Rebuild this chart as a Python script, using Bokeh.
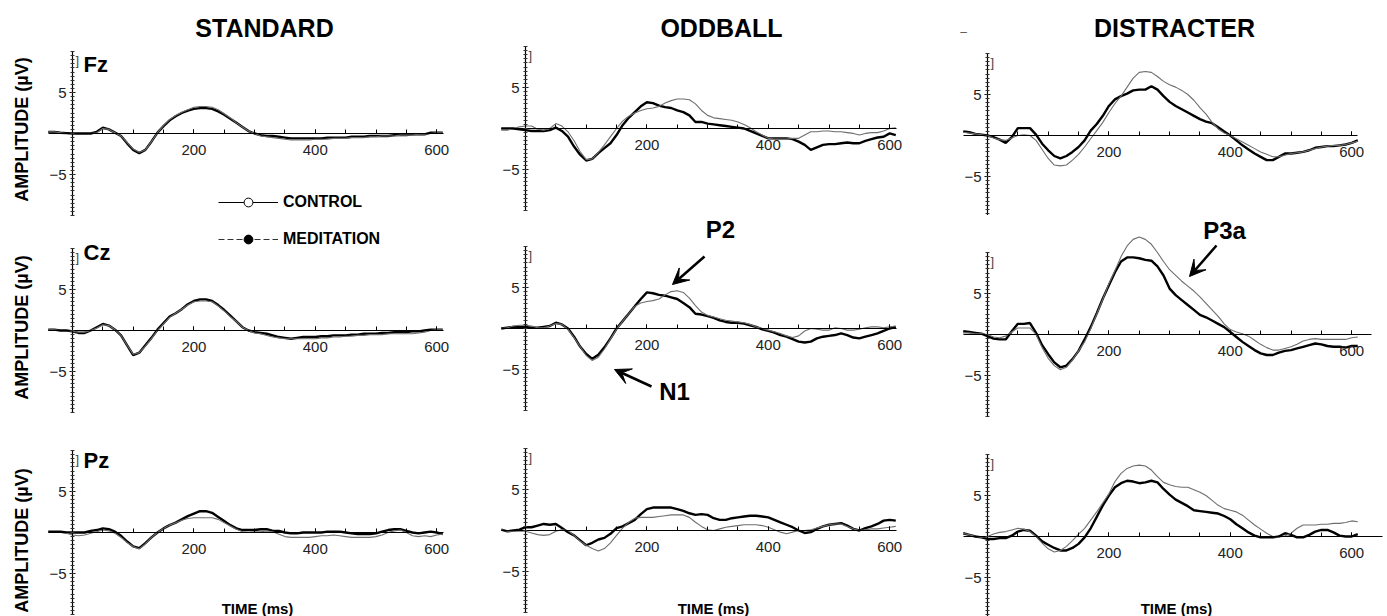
from math import pi
from bokeh.plotting import figure
from bokeh.layouts import row, column
from bokeh.models import (Range1d, LinearAxis, FixedTicker, Label, Arrow, VeeHead,
                          Legend, LegendItem)
from bokeh.embed import file_html
from bokeh.resources import INLINE

# ---------------- data ----------------
TIME_MS = [-40, -30, -20, -10, 0, 10, 20, 30, 40, 50,
           60, 70, 80, 90, 100, 110, 120, 130, 140, 150,
           160, 170, 180, 190, 200, 210, 220, 230, 240, 250,
           260, 270, 280, 290, 300, 310, 320, 330, 340, 350,
           360, 370, 380, 390, 400, 410, 420, 430, 440, 450,
           460, 470, 480, 490, 500, 510, 520, 530, 540, 550,
           560, 570, 580, 590, 600, 610]

CONDITIONS = ["STANDARD", "ODDBALL", "DISTRACTER"]
SITES = ["Fz", "Cz", "Pz"]
X_TICK_LABELS = [200, 400, 600]
Y_TICK_LABELS = [-5, 5]
GROUPS = ["CONTROL", "MEDITATION"]

# STANDARD
STD_FZ_MED = [0.2, 0.2, 0.1, 0.05, 0.0, 0.0, 0.0, 0.0, 0.2, 0.7,
              0.5, 0.1, -0.3, -1.2, -2.0, -2.4, -2.0, -1.0, 0.1, 0.9,
              1.6, 2.1, 2.5, 2.8, 3.0, 3.1, 3.1, 3.0, 2.7, 2.3,
              1.8, 1.3, 0.8, 0.3, 0.0, -0.2, -0.3, -0.3, -0.4, -0.5,
              -0.6, -0.6, -0.6, -0.6, -0.6, -0.6, -0.5, -0.5, -0.5, -0.5,
              -0.4, -0.4, -0.4, -0.3, -0.3, -0.3, -0.3, -0.2, -0.2, -0.2,
              -0.1, -0.1, -0.1, 0.1, 0.1, 0.1]
STD_FZ_CON = [0.2, 0.2, 0.1, 0.0, 0.0, 0.0, 0.0, 0.0, 0.1, 0.6,
              0.5, 0.1, -0.3, -1.1, -1.9, -2.3, -2.0, -1.0, 0.1, 1.0,
              1.7, 2.2, 2.6, 2.9, 3.2, 3.3, 3.3, 3.2, 2.9, 2.4,
              1.9, 1.3, 0.8, 0.3, 0.0, -0.3, -0.4, -0.5, -0.6, -0.7,
              -0.8, -0.8, -0.8, -0.8, -0.7, -0.7, -0.7, -0.6, -0.6, -0.6,
              -0.5, -0.5, -0.5, -0.4, -0.4, -0.3, -0.3, -0.3, -0.2, -0.2,
              -0.2, -0.1, -0.1, 0.0, 0.1, 0.1]
STD_CZ_MED = [0.1, 0.1, 0.0, 0.0, -0.1, -0.3, -0.3, 0.0, 0.4, 0.8,
              0.6, 0.1, -0.6, -1.8, -3.0, -2.7, -1.8, -0.9, 0.1, 0.9,
              1.7, 2.1, 2.6, 3.2, 3.6, 3.8, 3.8, 3.6, 3.1, 2.5,
              1.8, 1.1, 0.4, 0.0, -0.2, -0.3, -0.4, -0.6, -0.8, -0.9,
              -1.0, -0.9, -0.8, -0.8, -0.8, -0.7, -0.7, -0.6, -0.6, -0.6,
              -0.5, -0.5, -0.4, -0.4, -0.4, -0.3, -0.3, -0.2, -0.2, -0.2,
              -0.1, -0.1, 0.0, 0.1, 0.1, 0.1]
STD_CZ_CON = [0.1, 0.1, 0.0, 0.0, -0.1, -0.2, -0.2, 0.0, 0.3, 0.7,
              0.6, 0.1, -0.6, -1.8, -2.9, -2.7, -1.9, -1.0, 0.0, 0.8,
              1.6, 2.1, 2.6, 3.1, 3.5, 3.6, 3.6, 3.5, 3.0, 2.4,
              1.7, 1.1, 0.4, 0.0, -0.3, -0.4, -0.6, -0.8, -0.9, -1.0,
              -1.0, -1.0, -1.0, -1.0, -1.0, -0.9, -0.9, -0.8, -0.8, -0.7,
              -0.7, -0.6, -0.6, -0.5, -0.5, -0.5, -0.4, -0.4, -0.4, -0.4,
              -0.4, -0.3, -0.2, 0.0, 0.1, 0.1]
STD_PZ_MED = [0.1, 0.1, 0.1, 0.0, 0.0, 0.0, 0.0, 0.2, 0.3, 0.5,
              0.4, 0.1, -0.4, -1.1, -1.7, -1.9, -1.3, -0.6, 0.0, 0.5,
              0.9, 1.2, 1.6, 2.0, 2.3, 2.6, 2.6, 2.4, 1.9, 1.4,
              0.9, 0.5, 0.3, 0.3, 0.3, 0.4, 0.4, 0.2, 0.2, 0.0,
              -0.1, -0.1, 0.0, 0.0, 0.0, 0.0, 0.1, 0.1, 0.1, 0.0,
              -0.1, -0.2, -0.2, -0.2, -0.1, 0.1, 0.3, 0.4, 0.4, 0.2,
              0.0, -0.1, 0.0, 0.1, 0.0, -0.2]
STD_PZ_CON = [0.0, 0.0, 0.0, -0.1, -0.3, -0.4, -0.3, -0.1, 0.1, 0.3,
              0.2, -0.1, -0.6, -1.2, -1.7, -2.0, -1.4, -0.6, 0.0, 0.5,
              0.9, 1.2, 1.5, 1.7, 1.8, 1.8, 1.8, 1.8, 1.6, 1.2,
              0.8, 0.4, 0.1, 0.0, 0.1, 0.1, 0.2, 0.1, -0.2, -0.5,
              -0.6, -0.6, -0.6, -0.6, -0.5, -0.4, -0.4, -0.3, -0.4, -0.5,
              -0.6, -0.6, -0.6, -0.6, -0.5, -0.3, 0.0, 0.2, 0.3, 0.0,
              -0.4, -0.5, -0.4, -0.5, -0.3, -0.2]

# ODDBALL
ODD_FZ_MED = [0.0, 0.0, 0.0, -0.1, -0.2, -0.3, -0.3, -0.3, -0.2, 0.1,
              -0.3, -1.0, -2.2, -3.2, -3.9, -3.7, -3.0, -2.4, -1.8, -0.8,
              0.4, 1.3, 2.0, 2.7, 3.2, 3.1, 2.8, 2.6, 2.5, 2.2,
              2.0, 1.6, 0.8, 0.8, 0.6, 0.5, 0.4, 0.3, 0.2, 0.1,
              0.0, -0.3, -0.6, -0.9, -1.2, -1.2, -1.2, -1.2, -1.3, -1.6,
              -2.0, -2.6, -2.3, -2.0, -1.9, -1.9, -1.8, -1.7, -1.8, -1.8,
              -1.5, -1.3, -1.1, -1.0, -0.6, -0.8]
ODD_FZ_CON = [-0.2, -0.2, 0.0, 0.2, 0.3, 0.3, -0.1, -0.2, 0.0, 0.6,
              0.3, -0.4, -1.5, -2.8, -3.8, -3.7, -2.9, -2.0, -1.0, 0.0,
              0.9, 1.5, 1.9, 2.2, 2.4, 2.5, 2.7, 3.1, 3.4, 3.6,
              3.6, 3.5, 3.0, 2.2, 1.6, 1.3, 1.2, 1.1, 1.0, 0.8,
              0.5, 0.1, -0.4, -0.8, -1.2, -1.3, -1.3, -1.3, -1.2, -1.2,
              -0.8, -0.4, -0.4, -0.3, -0.3, -0.4, -0.4, -0.5, -0.6, -0.8,
              -0.6, -0.5, -0.5, -0.3, 0.0, 0.1]
ODD_CZ_MED = [0.0, 0.1, 0.2, 0.2, 0.2, 0.1, 0.1, 0.2, 0.3, 0.7,
              0.5, 0.0, -1.0, -2.2, -3.1, -3.7, -3.2, -2.3, -1.2, 0.0,
              0.9, 1.8, 2.7, 3.6, 4.4, 4.3, 4.1, 4.0, 3.8, 3.6,
              3.1, 2.6, 1.8, 1.7, 1.5, 1.3, 1.0, 0.8, 0.7, 0.7,
              0.6, 0.4, 0.2, -0.1, -0.3, -0.5, -0.8, -1.0, -1.3, -1.6,
              -1.7, -1.6, -1.2, -1.0, -0.9, -0.8, -0.6, -0.8, -1.1, -1.2,
              -1.0, -0.8, -0.6, -0.3, 0.0, 0.2]
ODD_CZ_CON = [0.0, 0.1, 0.3, 0.4, 0.4, 0.3, 0.1, 0.1, 0.3, 0.6,
              0.5, -0.1, -1.1, -2.2, -3.3, -3.9, -3.5, -2.5, -1.3, -0.1,
              0.9, 1.8, 2.7, 3.1, 3.3, 3.4, 3.6, 4.1, 4.5, 4.6,
              4.4, 3.7, 2.8, 2.0, 1.6, 1.4, 1.2, 1.0, 0.9, 0.8,
              0.7, 0.5, 0.2, 0.0, -0.2, -0.4, -0.6, -0.9, -1.1, -0.9,
              -0.3, 0.0, -0.1, -0.2, -0.2, 0.1, 0.0, -0.2, -0.2, -0.1,
              0.1, 0.2, 0.2, 0.1, 0.2, 0.3]
ODD_PZ_MED = [0.1, -0.1, 0.0, 0.1, 0.4, 0.4, 0.6, 0.8, 0.7, 0.8,
              0.3, -0.2, -0.6, -1.2, -1.8, -1.5, -1.1, -0.9, -0.4, 0.3,
              0.5, 0.9, 1.3, 2.0, 2.6, 2.8, 2.8, 2.8, 2.8, 2.6,
              2.4, 2.1, 1.9, 2.0, 1.9, 1.5, 1.3, 1.3, 1.5, 1.6,
              1.7, 1.8, 1.8, 1.7, 1.6, 1.3, 1.0, 0.7, 0.4, 0.0,
              -0.3, -0.2, 0.2, 0.5, 0.7, 0.8, 0.9, 0.6, 0.2, 0.0,
              0.3, 0.5, 0.8, 1.2, 1.3, 1.2]
ODD_PZ_CON = [0.1, -0.1, -0.1, -0.1, -0.1, -0.3, -0.5, -0.6, -0.5, -0.1,
              0.1, 0.0, -0.6, -1.3, -1.8, -2.2, -2.5, -2.2, -1.5, -0.6,
              0.3, 1.0, 1.5, 1.6, 1.6, 1.6, 1.7, 1.8, 1.9, 1.9,
              1.9, 1.6, 1.0, 0.5, 0.1, 0.0, 0.2, 0.4, 0.5, 0.6,
              0.7, 0.7, 0.7, 0.6, 0.4, 0.1, -0.2, -0.4, -0.2, 0.0,
              0.0, 0.1, 0.3, 0.5, 0.7, 0.8, 0.8, 0.5, 0.2, 0.0,
              0.1, 0.2, 0.2, 0.3, 0.4, 0.5]

# DISTRACTER
DIS_FZ_MED = [0.5, 0.4, 0.2, 0.1, 0.0, -0.2, -0.5, -0.9, -0.2, 0.9,
              0.9, 0.9, 0.1, -1.0, -1.8, -2.5, -2.8, -2.5, -2.0, -1.4,
              -0.6, 0.6, 1.4, 2.4, 3.6, 4.4, 4.8, 5.1, 5.5, 5.6,
              5.6, 6.0, 5.6, 4.8, 4.1, 3.6, 3.2, 2.8, 2.4, 2.0,
              1.7, 1.5, 1.0, 0.5, 0.0, -0.6, -1.2, -1.7, -2.2, -2.6,
              -3.0, -3.0, -2.6, -2.2, -2.2, -2.1, -2.0, -1.8, -1.5, -1.4,
              -1.3, -1.3, -1.2, -1.1, -0.9, -0.6]
DIS_FZ_CON = [0.4, 0.3, 0.2, 0.1, 0.0, -0.3, -0.5, -0.6, -0.3, 0.0,
              0.1, 0.0, -0.6, -1.7, -2.8, -3.6, -3.7, -3.6, -3.0, -2.3,
              -1.4, -0.4, 0.6, 1.6, 2.8, 3.9, 4.8, 5.9, 7.0, 7.7,
              7.8, 7.7, 7.2, 6.6, 6.2, 5.9, 5.5, 5.0, 4.3, 3.4,
              2.6, 1.6, 0.8, 0.3, 0.0, -0.4, -0.8, -1.2, -1.6, -2.0,
              -2.3, -2.6, -2.6, -2.4, -2.2, -2.1, -2.0, -1.8, -1.6, -1.4,
              -1.3, -1.2, -1.2, -1.1, -0.9, -0.7]
DIS_CZ_MED = [0.4, 0.3, 0.2, 0.1, -0.2, -0.5, -0.6, -0.6, 0.4, 1.3,
              1.3, 1.4, 0.2, -1.3, -2.4, -3.4, -4.0, -3.8, -3.0, -2.0,
              -0.6, 0.9, 2.6, 4.4, 6.0, 7.6, 8.9, 9.4, 9.4, 9.3,
              9.1, 9.0, 8.3, 7.2, 5.6, 4.8, 4.2, 3.6, 3.0, 2.4,
              2.1, 1.7, 1.3, 0.9, 0.3, -0.3, -0.9, -1.4, -1.9, -2.3,
              -2.5, -2.5, -2.2, -2.0, -1.9, -1.7, -1.5, -1.3, -1.1, -1.2,
              -1.4, -1.5, -1.5, -1.6, -1.4, -1.4]
DIS_CZ_CON = [0.2, 0.2, 0.1, 0.1, 0.0, -0.3, -0.4, -0.2, 0.3, 0.8,
              0.8, 0.8, 0.0, -1.6, -2.9, -3.8, -4.3, -4.0, -3.1, -2.0,
              -0.9, 0.7, 2.5, 4.3, 6.2, 7.8, 9.5, 10.8, 11.6, 11.9,
              11.6, 11.0, 10.0, 8.9, 7.9, 7.2, 6.5, 5.9, 5.3, 4.6,
              3.8, 3.0, 2.2, 1.3, 0.6, 0.3, 0.1, -0.2, -0.7, -1.2,
              -1.6, -1.9, -1.9, -1.7, -1.5, -1.2, -0.8, -0.6, -0.5, -0.6,
              -0.6, -0.6, -0.6, -0.6, -0.4, -0.3]
DIS_PZ_MED = [0.4, 0.2, 0.0, -0.1, -0.3, -0.3, -0.2, -0.2, 0.1, 0.6,
              0.8, 0.7, 0.1, -0.6, -1.0, -1.4, -1.7, -1.7, -1.4, -0.9,
              -0.1, 1.0, 2.4, 3.8, 5.0, 6.0, 6.5, 6.8, 6.7, 6.5,
              6.6, 6.8, 6.6, 5.8, 5.1, 4.5, 4.1, 3.7, 3.2, 3.1,
              3.0, 2.9, 2.8, 2.5, 2.1, 1.5, 1.0, 0.5, 0.1, -0.1,
              -0.1, -0.1, 0.0, 0.4, 0.2, -0.1, -0.1, 0.2, 0.6, 0.8,
              0.8, 0.5, 0.1, 0.0, 0.0, 0.3]
DIS_PZ_CON = [0.4, 0.2, 0.0, -0.1, 0.0, 0.3, 0.5, 0.6, 0.8, 1.0,
              0.9, 0.6, 0.0, -0.8, -1.5, -1.9, -1.7, -1.2, -0.5, 0.3,
              1.0, 2.0, 3.0, 4.1, 5.2, 6.7, 7.7, 8.3, 8.6, 8.7,
              8.6, 8.1, 7.3, 6.6, 6.3, 6.1, 6.0, 6.0, 5.7, 5.4,
              5.0, 4.4, 3.8, 3.4, 3.2, 3.0, 2.6, 2.0, 1.4, 0.9,
              0.4, 0.0, -0.1, 0.1, 0.4, 1.0, 1.4, 1.4, 1.4, 1.5,
              1.5, 1.6, 1.6, 1.7, 1.9, 1.8]

DATA = {
    ("STANDARD", "Fz"): (STD_FZ_CON, STD_FZ_MED),
    ("STANDARD", "Cz"): (STD_CZ_CON, STD_CZ_MED),
    ("STANDARD", "Pz"): (STD_PZ_CON, STD_PZ_MED),
    ("ODDBALL", "Fz"): (ODD_FZ_CON, ODD_FZ_MED),
    ("ODDBALL", "Cz"): (ODD_CZ_CON, ODD_CZ_MED),
    ("ODDBALL", "Pz"): (ODD_PZ_CON, ODD_PZ_MED),
    ("DISTRACTER", "Fz"): (DIS_FZ_CON, DIS_FZ_MED),
    ("DISTRACTER", "Cz"): (DIS_CZ_CON, DIS_CZ_MED),
    ("DISTRACTER", "Pz"): (DIS_PZ_CON, DIS_PZ_MED),
}

# ---------------- layout (page pixels) ----------------
FONT = "Liberation Sans"
COL_X = [(0, 455), (455, 915), (915, 1387)]
T0_PX = [72, 525, 987]                 # x pixel of t = 0 ms per column
ZERO_PX = [[133, 330, 532], [128, 328, 530], [135, 334, 536]]
ROW_BOUNDS = [[0, 221, 430, 616], [0, 213, 425, 616], [0, 215, 435, 616]]
PX_PER_MS = 0.607
PX_PER_UV = 8.2
AXIS_END_MS = [[611, 611, 611], [611, 611, 611], [610, 632, 651]]
NAN = float("nan")


def tx(c, xpx):
    return (xpx - T0_PX[c]) / PX_PER_MS


def ay(c, r, ypx):
    return (ZERO_PX[c][r] - ypx) / PX_PER_UV


def label(p, x, y, text, size, bold=True, align="center", angle=0.0, color="black"):
    p.add_layout(Label(x=x, y=y, text=text, text_font=FONT, text_font_size=size,
                       text_font_style="bold" if bold else "normal",
                       text_align=align, text_baseline="middle", angle=angle,
                       text_color=color))


def legend_entry(p, text, dash, fill, loc):
    # swatch renderers carry no visible data; they only provide the legend glyphs
    ln = p.line(x=[NAN], y=[NAN], line_color="black" if dash == "solid" else "#333333",
                line_width=1.2, line_dash=dash)
    mk = p.scatter(x=[NAN], y=[NAN], marker="circle", size=10, fill_color=fill,
                   line_color="black", line_width=1)
    lg = Legend(items=[LegendItem(label=text, renderers=[ln, mk])], location=loc,
                glyph_width=60, glyph_height=22, label_height=22, label_standoff=5,
                padding=0, margin=0, spacing=0, border_line_color=None,
                background_fill_alpha=0, label_text_font=FONT, label_text_color="black",
                label_text_font_style="bold", label_text_font_size="16px")
    p.add_layout(lg, "center")


def make_panel(c, r):
    cond, site = CONDITIONS[c], SITES[r]
    x0, x1 = COL_X[c]
    y0, y1 = ROW_BOUNDS[c][r], ROW_BOUNDS[c][r + 1]
    p = figure(width=x1 - x0, height=y1 - y0,
               x_range=Range1d(tx(c, x0), tx(c, x1)),
               y_range=Range1d(ay(c, r, y1), ay(c, r, y0)),
               x_axis_location=None, y_axis_location=None, title=None,
               toolbar_location=None, output_backend="svg",
               min_border=0, outline_line_color=None)
    p.grid.visible = False

    con, med = DATA[(cond, site)]
    p.line(TIME_MS, med, line_color="black", line_width=2.4)
    p.line(TIME_MS, con, line_color="#6e6e6e", line_width=1.1)

    xa = LinearAxis(fixed_location=0, bounds=(-40, AXIS_END_MS[c][r]),
                    ticker=FixedTicker(ticks=X_TICK_LABELS,
                                       minor_ticks=list(range(50, 601, 50))),
                    major_tick_in=4, major_tick_out=0, minor_tick_in=4, minor_tick_out=0,
                    major_label_standoff=11, axis_line_color="black", axis_line_width=1.2,
                    major_tick_line_color="black", minor_tick_line_color="black",
                    major_label_text_font=FONT, major_label_text_font_size="15px",
                    major_label_text_color="#222222")
    ya = LinearAxis(fixed_location=0, bounds=(-10, 10),
                    ticker=FixedTicker(ticks=Y_TICK_LABELS,
                                       minor_ticks=[v / 2 for v in range(-20, 21)]),
                    major_tick_in=3, major_tick_out=3, minor_tick_in=2, minor_tick_out=2,
                    major_label_standoff=3, axis_line_color="black", axis_line_width=1.2,
                    major_tick_line_color="black", minor_tick_line_color="#333333",
                    major_label_text_font=FONT, major_label_text_font_size="15px",
                    major_label_text_color="#222222")
    p.add_layout(xa, "below")
    p.add_layout(ya, "left")

    # small bracket mark at the top of each amplitude axis
    label(p, tx(c, T0_PX[c] + 3), ay(c, r, ZERO_PX[c][r] - 73), "]", "13px",
          bold=False, align="left", color="#444444")

    if c == 0:
        label(p, tx(c, 83), ay(c, r, ZERO_PX[c][r] - [69, 78, 72][r]), site, "22px",
              align="left")
        amp_y = [129, 327, 540][r]
        label(p, tx(c, 21), ay(c, r, amp_y), "AMPLITUDE (\u00b5V)", "18px", angle=pi / 2)
    if r == 0:
        title_x = [264, 721, 1174][c]
        label(p, tx(c, title_x), ay(c, r, 27), cond, "25px")
    if r == 2:
        time_x = [257, 713, 1176][c]
        label(p, tx(c, time_x), ay(c, r, 608), "TIME (ms)", "15px")

    if c == 0 and r == 0:
        legend_entry(p, GROUPS[0], "solid", "white", (218 - x0, y1 - 213))
    if c == 0 and r == 1:
        legend_entry(p, GROUPS[1], "6 3", "black", (218 - x0, y1 - 250))
    if c == 2 and r == 0:
        label(p, tx(c, 963), ay(c, r, 31), "\u2013", "12px", bold=False, color="#555555")

    arrow_kw = dict(line_width=2.5, line_color="black",
                    end=VeeHead(size=16, fill_color="black", line_color="black"))
    if c == 1 and r == 1:
        label(p, tx(c, 720), ay(c, r, 229), "P2", "24px")
        p.add_layout(Arrow(x_start=tx(c, 704), y_start=ay(c, r, 256),
                           x_end=tx(c, 672), y_end=ay(c, r, 284), **arrow_kw))
        label(p, tx(c, 674), ay(c, r, 391), "N1", "24px")
        p.add_layout(Arrow(x_start=tx(c, 651), y_start=ay(c, r, 386),
                           x_end=tx(c, 614), y_end=ay(c, r, 369), **arrow_kw))
    if c == 2 and r == 1:
        label(p, tx(c, 1224), ay(c, r, 230), "P3a", "24px")
        p.add_layout(Arrow(x_start=tx(c, 1216), y_start=ay(c, r, 245),
                           x_end=tx(c, 1189), y_end=ay(c, r, 276), **arrow_kw))
    return p


cols = []
for c in range(3):
    cols.append(column([make_panel(c, r) for r in range(3)], spacing=0))
layout = row(cols, spacing=0)

open("out.html", "w").write(file_html(layout, INLINE, "ERP waveforms"))
